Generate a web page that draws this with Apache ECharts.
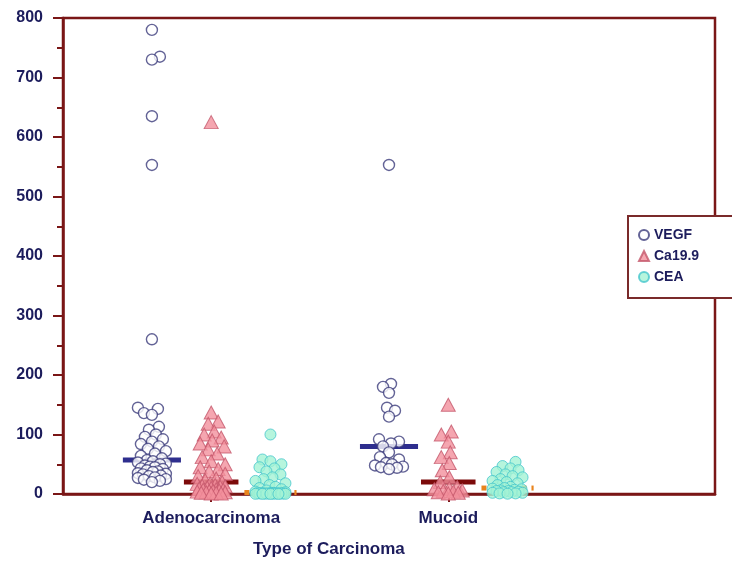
<!DOCTYPE html>
<html>
<head>
<meta charset="utf-8">
<script src="https://cdn.jsdelivr.net/npm/echarts@6/dist/echarts.min.js"></script>
<style>
  html, body { margin: 0; padding: 0; background: #fff; }
  #chart { width: 732px; height: 562px; }
</style>
</head>
<body>
<div id="chart"></div>
<script>
// Carcinoma types and marker series
const carcinomaTypes = ['Adenocarcinoma', 'Mucoid'];
const markerNames = ['VEGF', 'Ca19.9', 'CEA'];
const yTicks = [0, 100, 200, 300, 400, 500, 600, 700, 800];

// Individual measurements, per carcinoma type
const vegfAdeno = [780, 735, 730, 635, 553, 260, 145, 143, 136, 133, 113, 108, 100, 96, 92, 88, 84, 80, 76, 72, 68, 64, 60,
  57, 55, 53, 51, 50, 48, 46, 45, 43, 42, 40, 38, 37, 35, 34, 33, 31, 30, 28, 27, 25, 24, 22, 20];
const vegfMucoid = [553, 185, 180, 170, 145, 140, 130, 92, 88, 85, 80, 70, 62, 58, 52, 50, 48, 46, 45, 44, 42];

const ca199Adeno = [625, 137, 122, 118, 105, 100, 95, 90, 85, 80, 75, 68, 62, 55, 50, 45, 42, 38, 34, 30, 26, 23,
  20, 18, 17, 15, 14, 13, 12, 11, 10, 9, 8, 7, 7, 6, 5, 5, 4, 3, 3, 2, 2, 1, 1];
const ca199Mucoid = [150, 105, 100, 88, 70, 62, 52, 40, 28, 20, 12, 10, 8, 6, 5, 4, 3, 2, 1];

const ceaAdeno = [100, 58, 55, 50, 45, 43, 38, 33, 28, 25, 22, 18, 15, 12, 10, 8, 6, 4, 3,
  2, 2, 1.8, 1.5, 1.5, 1.2, 1, 1, 1, 0.8, 0.8, 0.5, 0.5, 0.5, 0.3, 0.3, 0.2, 0.1, 0.1];
const ceaMucoid = [54, 47, 43, 40, 37, 33, 30, 28, 25, 22, 20, 18, 15, 12,
  10, 9, 8, 7, 6, 5, 5, 4, 3, 3, 2, 2, 1, 1, 0.5];

// ---- layout constants ----
const W = 732, H = 562;
const GRID = { left: 63, right: 17, top: 18, bottom: 68 };
const SLOTS = 11;                       // band slots along the x axis
const Y_MAX = 800;
const PX_X = (W - GRID.left - GRID.right) / SLOTS;
const PX_Y = (H - GRID.top - GRID.bottom) / Y_MAX;
const TYPE_SLOT = [2, 6];               // category slot of each carcinoma type
const MARKER_SHIFT = [-1, 0, 1];        // slot shift of each marker within a type

const NAVY = '#1c1c5c';
const FRAME = '#7a1616';

// Place points in a column without heavy overlap (deterministic beeswarm)
function swarm(values, center, minDist, maxOff) {
  const order = values.map((v, i) => i).sort((a, b) => values[a] - values[b]);
  const placed = [];
  const out = new Array(values.length);
  order.forEach((i, n) => {
    const py = values[i] * PX_Y;
    let best = 0, bestScore = -1;
    for (let k = 0; k <= maxOff; k++) {
      const cands = k === 0 ? [0] : (n % 2 ? [k, -k] : [-k, k]);
      let found = false;
      for (const off of cands) {
        let dmin = Infinity;
        for (const p of placed) {
          const d = Math.hypot(p[0] - off, p[1] - py);
          if (d < dmin) dmin = d;
        }
        if (dmin >= minDist) { best = off; found = true; break; }
        if (dmin > bestScore) { bestScore = dmin; best = off; }
      }
      if (found) break;
    }
    placed.push([best, py]);
    out[i] = [center + best / PX_X, values[i]];
  });
  return out;
}

function median(arr) {
  const s = arr.slice().sort((a, b) => a - b);
  const m = Math.floor(s.length / 2);
  return s.length % 2 ? s[m] : (s[m - 1] + s[m]) / 2;
}

const groups = [
  [vegfAdeno, vegfMucoid],
  [ca199Adeno, ca199Mucoid],
  [ceaAdeno, ceaMucoid]
];
const swarmSpacing = [8, 9.5, 8];
const swarmLimit = [14, 14, 15];

function slotCenter(t, s) { return TYPE_SLOT[t] + 0.5 + MARKER_SHIFT[s]; }

const scatterData = groups.map((g, s) =>
  g.flatMap((vals, t) => swarm(vals, slotCenter(t, s), swarmSpacing[s], swarmLimit[s])));

const medianData = [];
groups.forEach((g, s) => g.forEach((vals, t) => medianData.push([slotCenter(t, s), median(vals), s])));

const markerStyles = [
  { symbol: 'circle', symbolSize: 11, itemStyle: { color: '#ffffff', borderColor: '#3c3c7c', borderWidth: 1.4 } },
  { symbol: 'triangle', symbolSize: [14, 13], itemStyle: { color: '#f2909c', borderColor: '#c4566a', borderWidth: 1 } },
  { symbol: 'circle', symbolSize: 11, itemStyle: { color: '#a4f2d4', borderColor: '#44c6cc', borderWidth: 1 } }
];
const medianStyles = [
  { color: '#2e2e8e', half: 0.49, dash: null },
  { color: '#7c0a0a', half: 0.46, dash: null },
  { color: '#e8841e', half: 0.44, dash: [5, 5] }
];

const categories = [];
for (let i = 0; i < SLOTS; i++) {
  const t = TYPE_SLOT.indexOf(i);
  categories.push(t >= 0 ? carcinomaTypes[t] : '');
}

const chart = echarts.init(document.getElementById('chart'), null, { renderer: 'canvas' });
chart.setOption({
  animation: false,
  backgroundColor: '#ffffff',
  grid: {
    left: GRID.left, right: GRID.right, top: GRID.top, bottom: GRID.bottom,
    show: true, borderColor: FRAME, borderWidth: 2.5, backgroundColor: 'transparent'
  },
  legend: {
    data: markerNames,
    orient: 'vertical',
    left: 628, top: 216,
    padding: [12, 40, 14, 10],
    itemGap: 7,
    itemWidth: 10, itemHeight: 10,
    borderColor: '#7a2a2a', borderWidth: 2,
    backgroundColor: '#ffffff',
    textStyle: { fontFamily: 'Liberation Sans', fontWeight: 'bold', fontSize: 14, color: NAVY },
    selectedMode: false
  },
  xAxis: [
    {
      type: 'category',
      data: categories,
      boundaryGap: true,
      axisLine: { lineStyle: { color: FRAME, width: 2.5 } },
      axisTick: {
        show: true, alignWithLabel: true, length: 8,
        interval: (i) => TYPE_SLOT.indexOf(i) >= 0,
        lineStyle: { color: FRAME, width: 2 }
      },
      axisLabel: {
        interval: 0, margin: 16,
        fontFamily: 'Liberation Sans', fontWeight: 'bold', fontSize: 17, color: NAVY
      },
      splitLine: { show: false }
    },
    { type: 'value', min: 0, max: SLOTS, show: false, splitLine: { show: false } }
  ],
  yAxis: {
    type: 'value',
    min: yTicks[0], max: yTicks[yTicks.length - 1], interval: yTicks[1] - yTicks[0],
    axisLine: { show: true, lineStyle: { color: FRAME, width: 2.5 } },
    axisTick: { show: true, length: 10, lineStyle: { color: FRAME, width: 2 } },
    minorTick: { show: true, splitNumber: 2, length: 6, lineStyle: { color: FRAME, width: 2 } },
    axisLabel: { margin: 20, fontFamily: 'Liberation Sans', fontWeight: 'bold', fontSize: 16, color: NAVY },
    splitLine: { show: false }
  },
  graphic: [{
    type: 'text', left: 253, top: 541,
    style: { text: 'Type of Carcinoma', font: 'bold 17px "Liberation Sans"', fill: NAVY }
  }],
  series: [
    {
      type: 'custom',
      name: 'median',
      xAxisIndex: 1,
      z: 1,
      silent: true,
      data: medianData,
      renderItem: (params, api) => {
        const c = api.value(0), m = api.value(1), s = api.value(2);
        const st = medianStyles[s];
        const p0 = api.coord([c - st.half, m]);
        const p1 = api.coord([c + st.half, m]);
        return {
          type: 'line',
          shape: { x1: p0[0], y1: p0[1], x2: p1[0], y2: p1[1] },
          style: { stroke: st.color, lineWidth: 5, lineDash: st.dash, lineCap: 'butt' }
        };
      }
    },
    ...markerNames.map((name, s) => Object.assign({
      type: 'scatter',
      name: name,
      xAxisIndex: 1,
      z: 2,
      clip: false,
      data: scatterData[s]
    }, markerStyles[s]))
  ]
});
</script>
</body>
</html>
